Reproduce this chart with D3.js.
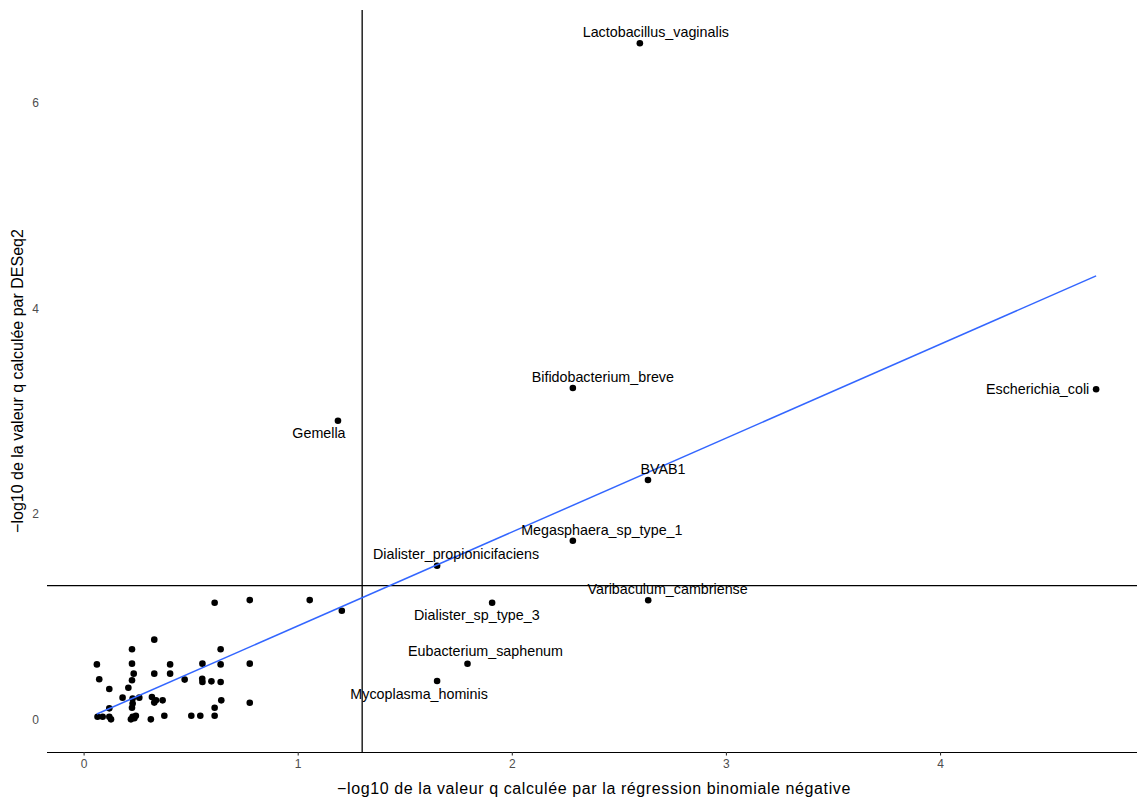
<!DOCTYPE html>
<html>
<head>
<meta charset="utf-8">
<script src="https://cdn.jsdelivr.net/npm/d3@7"></script>
<style>
  body { margin: 0; background: #fff; }
  text { font-family: "Liberation Sans", Arial, sans-serif; }
</style>
</head>
<body>
<div id="chart"></div>
<script>
// -log10 q (negative binomial regression) vs -log10 q (DESeq2)
const labelNames = ["Lactobacillus_vaginalis", "Bifidobacterium_breve", "Escherichia_coli", "Gemella",
  "BVAB1", "Megasphaera_sp_type_1", "Dialister_propionicifaciens", "Varibaculum_cambriense",
  "Dialister_sp_type_3", "Eubacterium_saphenum", "Mycoplasma_hominis"];
const labelX = [2.598, 2.285, 4.729, 1.188, 2.636, 2.285, 1.651, 2.637, 1.908, 1.793, 1.651];
const labelY = [6.582, 3.226, 3.213, 2.907, 2.330, 1.738, 1.496, 1.159, 1.135, 0.541, 0.373];

// unlabelled taxa
const otherX = [0.612, 0.776, 1.056, 1.206, 0.330, 0.226, 0.640, 0.062, 0.226, 0.404,
  0.555, 0.640, 0.776, 0.234, 0.330, 0.404, 0.073, 0.226, 0.472, 0.554,
  0.555, 0.597, 0.640, 0.120, 0.209, 0.182, 0.229, 0.260, 0.319, 0.338,
  0.369, 0.229, 0.330, 0.643, 0.776, 0.120, 0.226, 0.612, 0.065, 0.089,
  0.120, 0.128, 0.229, 0.237, 0.244, 0.221, 0.314, 0.377, 0.503, 0.545, 0.612];
const otherY = [1.135, 1.161, 1.161, 1.057, 0.776, 0.682, 0.682, 0.535, 0.542, 0.535,
  0.542, 0.535, 0.542, 0.445, 0.445, 0.445, 0.390, 0.380, 0.387, 0.395,
  0.363, 0.370, 0.363, 0.295, 0.307, 0.211, 0.202, 0.211, 0.217, 0.185,
  0.185, 0.153, 0.163, 0.185, 0.161, 0.107, 0.113, 0.113, 0.025, 0.025,
  0.025, 0.000, 0.025, 0.010, 0.035, 0.000, 0.000, 0.035, 0.035, 0.035, 0.035];

// lm fit
const fitIntercept = -0.005;
const fitSlope = 0.914;
const threshold = -Math.log10(0.05);

const xTicks = [0, 1, 2, 3, 4];
const yTicks = [0, 2, 4, 6];

// label offsets (px) relative to their point, as ggrepel placed them
const labelOffsets = [[16, -11], [30, -11], [-58.5, 0], [-19, 12.7], [15, -11], [29, -11],
  [19, -11.4], [19.4, -11], [-15.3, 12.3], [18, -12.7], [-18, 13.3]];

const width = 1137, height = 800;
const margin = {top: 10, right: -9, bottom: 48, left: 47};

const svg = d3.select("#chart").append("svg")
  .attr("width", width)
  .attr("height", height);

const x = d3.scaleLinear().domain([-0.171, 4.962]).range([margin.left, width - margin.right]);
const y = d3.scaleLinear().domain([-0.318, 6.906]).range([height - margin.bottom, margin.top]);

const points = otherX.map((v, i) => ({x: v, y: otherY[i]}))
  .concat(labelX.map((v, i) => ({x: v, y: labelY[i]})));
const labelled = labelNames.map((n, i) => ({name: n, x: labelX[i], y: labelY[i], off: labelOffsets[i]}));

// x axis
const xAxis = svg.append("g")
  .attr("transform", "translate(0," + y.range()[0] + ")")
  .call(d3.axisBottom(x).tickValues(xTicks).tickSize(3.5).tickPadding(4).tickFormat(d3.format("d")));
xAxis.select(".domain").attr("d", "M" + margin.left + ",0.5H" + width).attr("stroke", "#000").attr("stroke-width", 1.1);
xAxis.selectAll(".tick line").attr("stroke", "#333").attr("stroke-width", 1.1);
xAxis.selectAll(".tick text").attr("fill", "#4d4d4d").style("font-size", "12px");

// y axis (labels only)
const yAxis = svg.append("g")
  .attr("transform", "translate(" + margin.left + ",0)")
  .call(d3.axisLeft(y).tickValues(yTicks).tickSize(0).tickPadding(8).tickFormat(d3.format("d")));
yAxis.select(".domain").remove();
yAxis.selectAll(".tick text").attr("fill", "#4d4d4d").style("font-size", "12px");

// threshold lines
svg.append("line")
  .attr("x1", margin.left).attr("x2", width)
  .attr("y1", y(threshold)).attr("y2", y(threshold))
  .attr("stroke", "#000").attr("stroke-width", 1.3);
svg.append("line")
  .attr("x1", x(threshold)).attr("x2", x(threshold))
  .attr("y1", margin.top).attr("y2", y.range()[0])
  .attr("stroke", "#000").attr("stroke-width", 1.3);

// points
svg.append("g").selectAll("circle")
  .data(points)
  .join("circle")
  .attr("cx", d => x(d.x))
  .attr("cy", d => y(d.y))
  .attr("r", 3.3)
  .attr("fill", "#000");

// regression line
const xExt = d3.extent(points, d => d.x);
svg.append("path")
  .datum(xExt.map(v => [v, fitIntercept + fitSlope * v]))
  .attr("d", d3.line().x(d => x(d[0])).y(d => y(d[1])))
  .attr("fill", "none")
  .attr("stroke", "#3366FF")
  .attr("stroke-width", 1.5);

// labels
svg.append("g").selectAll("text")
  .data(labelled)
  .join("text")
  .attr("x", d => x(d.x) + d.off[0])
  .attr("y", d => y(d.y) + d.off[1])
  .attr("dy", "0.35em")
  .attr("text-anchor", "middle")
  .attr("fill", "#000")
  .style("font-size", "14.3px")
  .text(d => d.name);

// axis titles
svg.append("text")
  .attr("x", (margin.left + width) / 2 + 2)
  .attr("y", 794)
  .attr("text-anchor", "middle")
  .style("font-size", "16px")
  .style("letter-spacing", "0.6px")
  .text("−log10 de la valeur q calculée par la régression binomiale négative");

svg.append("text")
  .attr("transform", "translate(23," + (y.range()[0] + margin.top) / 2 + ") rotate(-90)")
  .attr("text-anchor", "middle")
  .style("font-size", "16px")
  .text("−log10 de la valeur q calculée par DESeq2");
</script>
</body>
</html>
